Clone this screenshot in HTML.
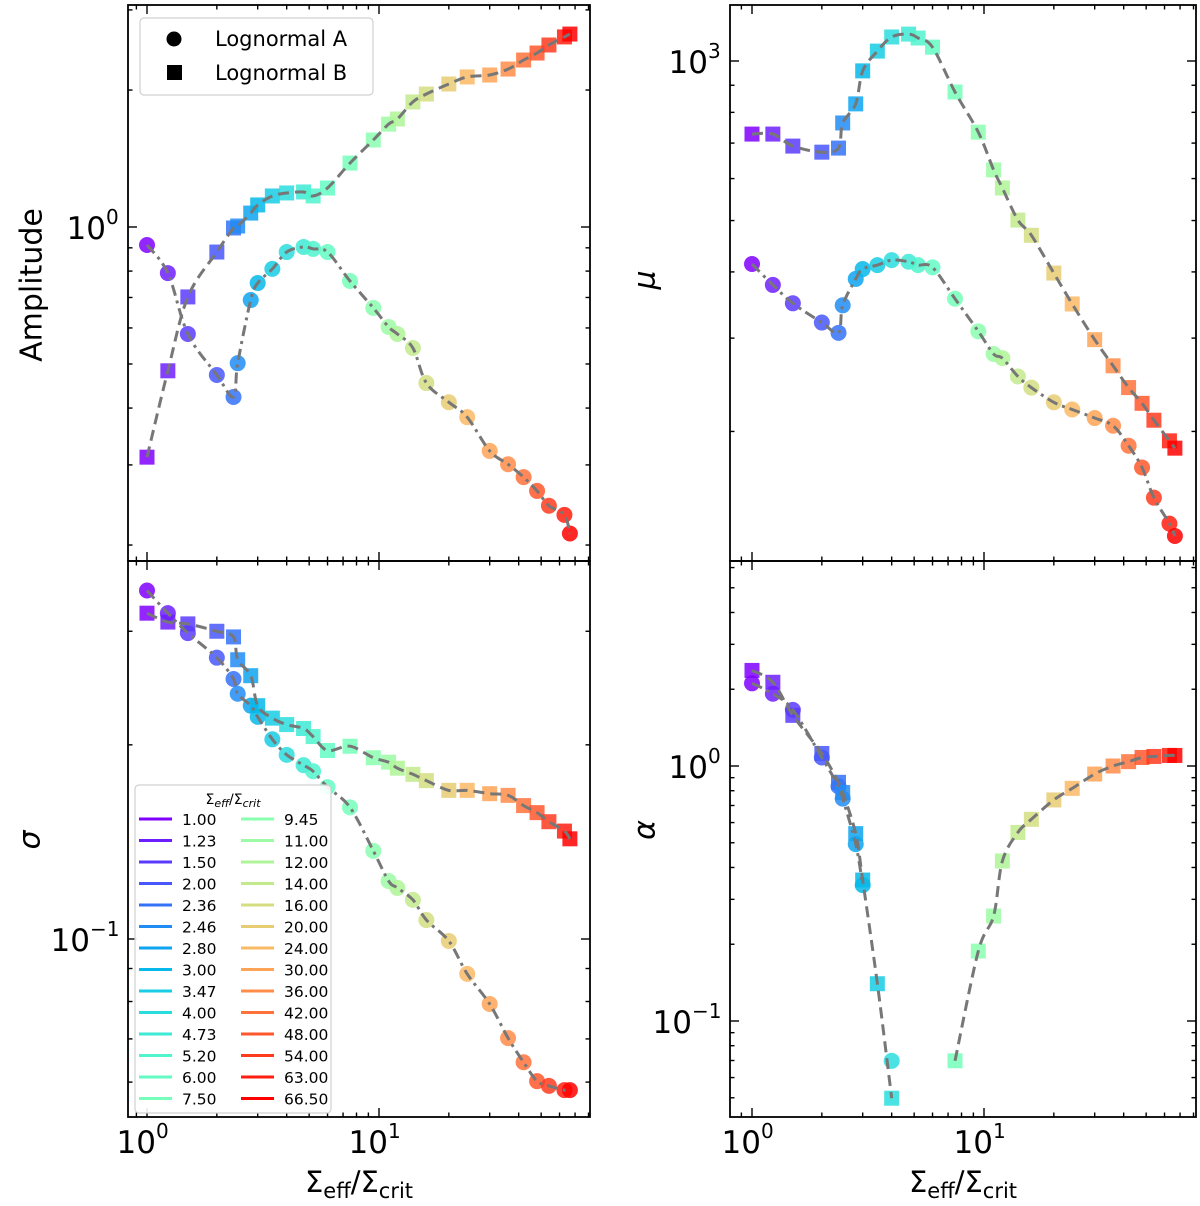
<!DOCTYPE html>
<html><head><meta charset="utf-8"><style>
html,body{margin:0;padding:0;background:#fff}
svg text{font-family:"DejaVu Sans","Liberation Sans",sans-serif;fill:#000}
</style></head><body>
<svg id="fig" xmlns="http://www.w3.org/2000/svg" width="1200" height="1201" viewBox="0 0 1200 1201"></svg>
<script>
const categories = [1.00,1.23,1.50,2.00,2.36,2.46,2.80,3.00,3.47,4.00,4.73,5.20,6.00,7.50,9.45,11.00,12.00,14.00,16.00,20.00,24.00,30.00,36.00,42.00,48.00,54.00,63.00,66.50];
const legendLabels = ["1.00","1.23","1.50","2.00","2.36","2.46","2.80","3.00","3.47","4.00","4.73","5.20","6.00","7.50","9.45","11.00","12.00","14.00","16.00","20.00","24.00","30.00","36.00","42.00","48.00","54.00","63.00","66.50"];
const ampA = [0.913,0.792,0.582,0.473,0.423,0.502,0.691,0.753,0.809,0.881,0.904,0.895,0.881,0.761,0.664,0.603,0.582,0.542,0.454,0.412,0.382,0.322,0.301,0.282,0.263,0.244,0.233,0.212];
const ampB = [0.312,0.483,0.702,0.881,0.995,1.005,1.073,1.118,1.170,1.188,1.194,1.170,1.218,1.382,1.553,1.683,1.727,1.883,1.960,2.062,2.137,2.158,2.224,2.328,2.412,2.512,2.617,2.655];
const muA = [414,378,349,321,307,346,388,405,412,421,418,412,408,356,309,280,275,254,242,227,220,212,205,188,171,150,134,127];
const muB = [728,728,691,673,685,764,830,958,1044,1110,1124,1105,1062,874,734,623,576,501,469,398,348,298,266,242,226,210,192,186];
const sigA = [0.347,0.320,0.298,0.273,0.253,0.240,0.230,0.221,0.204,0.193,0.186,0.182,0.172,0.160,0.137,0.123,0.120,0.115,0.107,0.0993,0.0883,0.0793,0.0702,0.0644,0.0602,0.0592,0.0583,0.0583];
const sigB = [0.320,0.310,0.308,0.300,0.294,0.271,0.256,0.230,0.220,0.215,0.212,0.206,0.196,0.199,0.191,0.188,0.184,0.180,0.176,0.170,0.170,0.168,0.167,0.161,0.157,0.152,0.147,0.143];
const alpA = [2.11,1.92,1.66,1.08,0.832,0.745,0.494,0.341,null,0.0698,null,null,null,null,null,null,null,null,null,null,null,null,null,null,null,null,null,null];
const alpB = [2.37,2.13,1.58,1.12,0.863,0.787,0.543,0.357,0.140,0.0498,null,null,null,0.0698,0.188,0.258,0.424,0.549,0.618,0.736,0.817,0.930,1.00,1.04,1.08,1.09,1.10,1.10];

const NS="http://www.w3.org/2000/svg";
const svg=document.getElementById('fig');
function mk(tag,attrs,parent){const e=document.createElementNS(NS,tag);for(const k in attrs)e.setAttribute(k,attrs[k]);(parent||svg).appendChild(e);return e;}
function rainbow(t){const r=Math.min(1,Math.abs(2*t-0.5)),g=Math.sin(Math.PI*t),b=Math.cos(Math.PI*t/2);return `rgb(${Math.round(r*255)},${Math.round(g*255)},${Math.round(Math.max(0,b)*255)})`;}

const panels=[
 {id:'amplitude',L:128,R:590,T:5,B:561,x0:147,ref:1,y0:227,k:455,A:ampA,Bv:ampB,ylab:'Amplitude',ylx:32,yly:285,xlab:false,majors:[[1,'10','0']]},
 {id:'mu',L:730,R:1196,T:5,B:561,x0:752,ref:1000,y0:61,k:530,A:muA,Bv:muB,ylab:'μ',ylx:645,yly:280,xlab:false,majors:[[1000,'10','3']]},
 {id:'sigma',L:128,R:590,T:561,B:1117,x0:147,ref:0.1,y0:939,k:645,A:sigA,Bv:sigB,ylab:'σ',ylx:30,yly:840,xlab:true,majors:[[0.1,'10','−1']]},
 {id:'alpha',L:730,R:1196,T:561,B:1117,x0:752,ref:1,y0:766,k:255,A:alpA,Bv:alpB,ylab:'α',ylx:645,yly:830,xlab:true,majors:[[1,'10','0'],[0.1,'10','−1']]}
];
const KX=232;

function splinePath(pts){
  let d='';
  if(pts.length<2)return d;
  d='M'+pts[0][0].toFixed(1)+','+pts[0][1].toFixed(1);
  for(let i=0;i<pts.length-1;i++){
    const p0=pts[i-1]||pts[i],p1=pts[i],p2=pts[i+1],p3=pts[i+2]||pts[i+1];
    const c1=[p1[0]+(p2[0]-p0[0])/6,p1[1]+(p2[1]-p0[1])/6];
    const c2=[p2[0]-(p3[0]-p1[0])/6,p2[1]-(p3[1]-p1[1])/6];
    d+=`C${c1[0].toFixed(1)},${c1[1].toFixed(1)} ${c2[0].toFixed(1)},${c2[1].toFixed(1)} ${p2[0].toFixed(1)},${p2[1].toFixed(1)}`;
  }
  return d;
}

panels.forEach(p=>{
  const xs=v=>p.x0+KX*Math.log10(v);
  const ys=v=>p.y0-p.k*Math.log10(v/p.ref);
  const g=mk('g',{});
  
  
  const cp='clip-'+p.id;
  const defs=mk('defs',{},g);
  const clip=mk('clipPath',{id:cp},defs);
  mk('rect',{x:p.L,y:p.T,width:p.R-p.L,height:p.B-p.T},clip);
  const plot=mk('g',{'clip-path':`url(#${cp})`},g);
  
  
  categories.forEach((c,i)=>{
    const col=rainbow(i/(categories.length-1));
    const vb=p.Bv[i];
    if(vb!=null){
      const s=mk('rect',{x:xs(c)-7.5,y:ys(vb)-7.5,width:15,height:15,fill:col,'fill-opacity':0.85},plot);
      
      
    }
    const va=p.A[i];
    if(va!=null){
      const ci=mk('circle',{cx:xs(c),cy:ys(va),r:8,fill:col,'fill-opacity':0.85},plot);
      
      
    }
  });
  [[p.Bv,'11,6','fit-b'],[p.A,'11,5,3,5','fit-a']].forEach(([arr,dash,nm])=>{
    let segs=[],cur=[];
    arr.forEach((v,i)=>{if(v==null){if(cur.length)segs.push(cur);cur=[];}else cur.push([xs(categories[i]),ys(v)]);});
    if(cur.length)segs.push(cur);
    segs.forEach(s=>{
      const pa=mk('path',{d:splinePath(s),fill:'none',stroke:'#777','stroke-width':3,'stroke-dasharray':dash},plot);
      
      
    });
  });
  const fr=mk('rect',{x:p.L,y:p.T,width:p.R-p.L,height:p.B-p.T,fill:'none',stroke:'#000','stroke-width':1.8},g);
  
  
  for(let e=-1;e<=1;e++)for(let m=1;m<=9;m++){
    const v=m*Math.pow(10,e),x=xs(v);
    if(x<p.L+1||x>p.R-1)continue;
    const len=m==1?9:4.5;
    mk('line',{x1:x,x2:x,y1:p.B,y2:p.B-len,stroke:'#000','stroke-width':1.4},g);
    mk('line',{x1:x,x2:x,y1:p.T,y2:p.T+len,stroke:'#000','stroke-width':1.4},g);
  }
  for(let e=-3;e<=4;e++)for(let m=1;m<=9;m++){
    const v=m*Math.pow(10,e),y=ys(v);
    if(y<p.T+1||y>p.B-1)continue;
    const len=m==1?9:4.5;
    mk('line',{x1:p.L,x2:p.L+len,y1:y,y2:y,stroke:'#000','stroke-width':1.4},g);
    mk('line',{x1:p.R,x2:p.R-len,y1:y,y2:y,stroke:'#000','stroke-width':1.4},g);
  }
  p.majors.forEach(([v,b,ex])=>{
    const y=ys(v);
    const xe=p.L-(ex.length>1?38:22);
    const t=mk('text',{x:xe,y:y+12,'font-size':31,'text-anchor':'end'},g);
    t.textContent=b;
    
    
    const t2=mk('text',{x:xe,y:y-3,'font-size':20,'text-anchor':'start'},g);
    t2.textContent=ex;
    
    
  });
  const yl=mk('text',{x:p.ylx,y:p.yly,'font-size':30,'text-anchor':'middle',transform:`rotate(-90 ${p.ylx} ${p.yly})`,'dominant-baseline':'central','font-style':p.ylab.length>1?'normal':'italic'},g);
  yl.textContent=p.ylab;
  
  
  if(p.xlab){
    [[1,'0'],[10,'1']].forEach(([v,ex])=>{
      const x=xs(v);
      const t=mk('text',{x:x+9,y:1153,'font-size':31,'text-anchor':'end'},g);
      t.textContent='10';
      
      
      const t2=mk('text',{x:x+9,y:1138,'font-size':20},g);
      t2.textContent=ex;
      
      
    });
    const cx=(p.L+p.R)/2;
    const xl=mk('text',{x:cx,y:1192,'font-size':29,'text-anchor':'middle'},g);
    
    
    xl.innerHTML='Σ<tspan font-size="21" dy="6">eff</tspan><tspan dy="-6">/Σ</tspan><tspan font-size="21" dy="6">crit</tspan>';
  }
});

(function(){
  const g=mk('g',{});
  
  
  mk('rect',{x:140,y:18,width:233,height:77,rx:4,fill:'#fff','fill-opacity':0.85,stroke:'#d0d0d0','stroke-width':1.2},g);
  const c=mk('circle',{cx:174,cy:39,r:7.5,fill:'#000'},g);
  
  
  const s=mk('rect',{x:167,y:65,width:15,height:15,fill:'#000'},g);
  
  
  const t1=mk('text',{x:215,y:46,'font-size':21},g);t1.textContent='Lognormal A';
  
  
  const t2=mk('text',{x:215,y:80,'font-size':21},g);t2.textContent='Lognormal B';
  
  
})();

(function(){
  const g=mk('g',{});
  
  
  mk('rect',{x:135,y:785,width:196,height:328,rx:4,fill:'#fff','fill-opacity':0.9,stroke:'#d0d0d0','stroke-width':1.2},g);
  const tt=mk('text',{x:233,y:804,'font-size':14,'text-anchor':'middle'},g);
  tt.innerHTML='Σ<tspan font-style="italic" font-size="11" dy="3">eff</tspan><tspan dy="-3">/Σ</tspan><tspan font-style="italic" font-size="11" dy="3">crit</tspan>';
  
  
  legendLabels.forEach((lab,i)=>{
    const col=Math.floor(i/14),row=i%14;
    const y=819+row*21.5;
    const lx=col?241:139;
    const ln=mk('line',{x1:lx,x2:lx+33,y1:y,y2:y,stroke:rainbow(i/(legendLabels.length-1)),'stroke-width':3},g);
    
    
    const t=mk('text',{x:col?284:182,y:y+6,'font-size':15.5},g);
    t.textContent=lab;
    
    
  });
})();
</script>
</body></html>
